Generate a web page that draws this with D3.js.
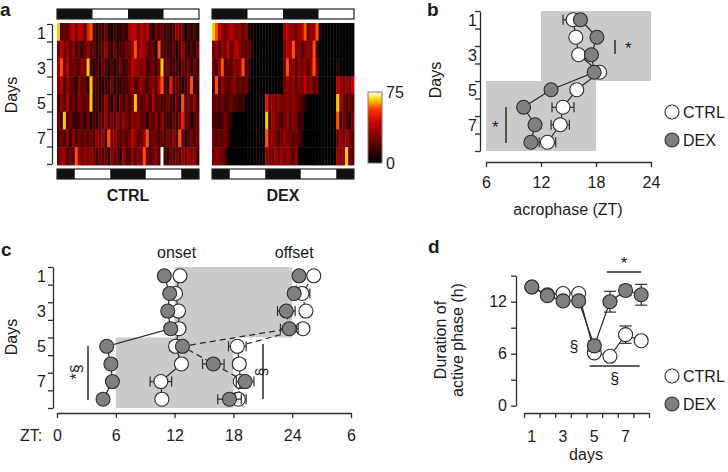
<!DOCTYPE html>
<html>
<head>
<meta charset="utf-8">
<script src="https://cdn.jsdelivr.net/npm/d3@7"></script>
<style>
  body { margin: 0; background: #fff; }
  svg { display: block; font-family: "Liberation Sans", Arial, sans-serif; }
</style>
</head>
<body>
<svg id="fig" width="728" height="472"></svg>
<script>
// ---- data ----
const days = [1, 2, 3, 4, 5, 6, 7, 8];
const dayLabels = [1, 3, 5, 7];

// actograms: activity per 1-h bin over 48 h, level 0-9 (9 = 75 counts)
const ctrlActogram = [
  "823245355267212131021121455354521323121243302121",
  "353424231342312242131223347354323172221312421213",
  "473523324382121321212312354434223238231221323132",
  "352432142318221121312122342343234257216232123712",
  "242523243238121242131323238323415232232131723242",
  "328232123131213242324243243423132414221323632123",
  "232414232323243427343232354234723323232427312323",
  "344232743434323231423142242437323429213232434342"
];
const dexActogram = [
  "875434543424100000000000453434573447100000000000",
  "342435245332310000000000354734234372000000000000",
  "324723243472200000000000373424342473000000100000",
  "272432342323100000000000343424353423000000543435",
  "232322322120000000634343343433210000000000843232",
  "221232100000000000824332342431200000000000723213",
  "323232000000000000734323433232100000000000343432",
  "343320000000000000433434343240000000000000434832"
];
const ldTopDark = [[0, 12], [24, 36]];
const ldBottomDark = [[0, 6], [18, 30], [42, 48]];
const heatTicks = [0, 75];

// b: acrophase (ZT)
const acroCtrl = [15.5, 15.8, 16.1, 18.4, 15.9, 14.4, 14.1, 12.7];
const acroCtrlErr = [1.1, 0.3, 0.3, 0.3, 0.4, 1.2, 1.0, 0.9];
const acroDex = [16.3, 18.1, 17.5, 17.8, 13.1, 10.1, 11.35, 10.9];
const acroDexErr = [0.3, 0.3, 0.3, 0.3, 0.3, 0.3, 0.3, 0.3];
const acroTicks = [6, 12, 18, 24];

// c: onset / offset (ZT)
const onsetCtrl = [12.55, 12.1, 12.4, 12.45, 12.1, 12.7, 10.6, 10.7];
const onsetCtrlErr = [0.3, 0.4, 0.3, 0.3, 0.6, 0.5, 1.1, 0.4];
const onsetDex = [10.95, 11.5, 11.3, 11.6, 5.07, 5.5, 5.65, 4.7];
const onsetDexErr = [0.3, 0.3, 0.3, 0.3, 0.4, 0.3, 0.3, 0.3];
const offsetCtrl = [26.2, 25.0, 25.4, 25.1, 18.4, 18.6, 18.7, 18.5];
const offsetCtrlErr = [0.3, 0.8, 0.4, 0.4, 0.9, 0.6, 0.5, 0.8];
const offsetDex = [24.7, 24.2, 23.4, 23.7, 12.8, 15.95, 19.2, 17.6];
const offsetDexErr = [0.3, 0.4, 0.9, 0.9, 0.5, 1.1, 0.9, 1.2];
const ztTicks = [0, 6, 12, 18, 24, 30];
const ztLabels = ["0", "6", "12", "18", "24", "6"];

// d: duration of active phase (h)
const durCtrl = [13.7, 12.8, 12.95, 12.95, 6.1, 5.7, 8.2, 7.5];
const durCtrlErr = [0.3, 0.3, 0.3, 0.3, 0.4, 0.4, 1.0, 0.4];
const durDex = [13.7, 12.7, 12.1, 12.1, 6.9, 12.0, 13.3, 12.8];
const durDexErr = [0.3, 0.3, 0.3, 0.3, 0.6, 1.2, 0.6, 1.2];
const durTicks = [0, 3, 6, 9, 12, 15];

// ---- drawing ----
const svg = d3.select("#fig");
const ink = "#2b2b2b";
const txt = "#1a1a1a";
const R = 7;

const heat = d3.scaleLinear()
  .domain([0, 42, 56, 67, 75])
  .range(["#000000", "#c00000", "#ff3000", "#ffd000", "#ffffff"]);
const level = c => +c * 75 / 9;

function label(x, y, s, opts = {}) {
  return svg.append("text")
    .attr("x", x).attr("y", y)
    .attr("font-size", opts.size || 16)
    .attr("font-weight", opts.bold ? "bold" : null)
    .attr("text-anchor", opts.anchor || "start")
    .attr("transform", opts.rotate ? `rotate(${opts.rotate},${x},${y})` : null)
    .attr("fill", txt)
    .text(s);
}

function styleAxis(g) {
  g.selectAll("line,path").attr("stroke", ink).attr("stroke-width", 1.3);
  g.selectAll("text").attr("font-size", 16).attr("fill", txt).attr("font-family", null);
}

// day axis with ticks between days, labels at 1,3,5,7
function dayAxis(x, y0, y1, gap) {
  const y = d3.scaleLinear().domain([0.5, 8.5]).range([y0, y1]);
  svg.append("g")
    .attr("transform", `translate(${x},0)`)
    .call(d3.axisLeft(y).tickValues(d3.range(0.5, 9, 1)).tickSize(5).tickSizeOuter(0).tickFormat(""))
    .call(styleAxis);
  svg.append("g").selectAll("text")
    .data(dayLabels).join("text")
    .attr("x", x - gap).attr("y", d => y(d)).attr("dy", "0.36em")
    .attr("text-anchor", "end").attr("font-size", 16).attr("fill", txt)
    .text(d => d);
  return y;
}

// ---- panel a ----
function actogram(rows, x0, x1, name) {
  const col = d3.scaleBand().domain(d3.range(48)).range([x0, x1]);
  const row = d3.scaleBand().domain(days).range([23, 165]);
  const hx = d3.scaleLinear().domain([0, 48]).range([x0, x1]);
  const g = svg.append("g");
  rows.forEach((s, i) => {
    g.append("g").selectAll("rect")
      .data(s.split("").map(level)).join("rect")
      .attr("x", (d, j) => col(j)).attr("y", row(days[i]))
      .attr("width", col.bandwidth() + 0.4).attr("height", row.bandwidth() + 0.4)
      .attr("fill", d => heat(d));
  });
  [[9, ldTopDark], [169, ldBottomDark]].forEach(([y, dark]) => {
    g.append("rect").attr("x", x0).attr("y", y).attr("width", x1 - x0).attr("height", 10).attr("fill", "#fff");
    g.append("g").selectAll("rect").data(dark).join("rect")
      .attr("x", d => hx(d[0])).attr("y", y).attr("width", d => hx(d[1]) - hx(d[0])).attr("height", 10)
      .attr("fill", "#111");
    g.append("rect").attr("x", x0).attr("y", y).attr("width", x1 - x0).attr("height", 10)
      .attr("fill", "none").attr("stroke", "#222").attr("stroke-width", 1.2);
  });
  label((x0 + x1) / 2, 201, name, { bold: true, anchor: "middle" });
}
actogram(ctrlActogram, 57, 199, "CTRL");
actogram(dexActogram, 212, 354, "DEX");
dayAxis(52, 24, 164, 6);
label(17, 95, "Days", { rotate: -90, anchor: "middle" });
label(0, 16, "a", { bold: true, size: 19 });

// colour bar
const grad = svg.append("defs").append("linearGradient")
  .attr("id", "heatgrad").attr("x1", 0).attr("y1", 1).attr("x2", 0).attr("y2", 0);
grad.selectAll("stop").data(heat.domain()).join("stop")
  .attr("offset", d => d / 75).attr("stop-color", d => heat(d));
const cb = d3.scaleLinear().domain([0, 75]).range([163, 92]);
svg.append("rect").attr("x", 368).attr("y", cb(75)).attr("width", 14).attr("height", cb(0) - cb(75))
  .attr("fill", "url(#heatgrad)").attr("stroke", "#777").attr("stroke-width", 1);
svg.append("g").selectAll("text").data(heatTicks).join("text")
  .attr("x", 386).attr("y", d => cb(d)).attr("dy", "0.36em")
  .attr("font-size", 16).attr("fill", txt).text(d => d);

// ---- shared point drawing ----
function series(xs, ys, vals, errs, fill, horizontal, dash) {
  const pts = vals.map((v, i) => ({ v, e: errs[i], day: days[i] }));
  const g = svg.append("g");
  const px = d => horizontal ? xs(d.v) : xs(d.day);
  const py = d => horizontal ? ys(d.day) : ys(d.v);
  g.append("path")
    .attr("d", d3.line().x(px).y(py)(pts))
    .attr("fill", "none").attr("stroke", ink).attr("stroke-width", 1.2)
    .attr("stroke-dasharray", dash ? "6,4" : null);
  const eb = g.append("g").attr("stroke", ink).attr("stroke-width", 1.2);
  pts.forEach(d => {
    if (horizontal) {
      const a = xs(d.v - d.e), b = xs(d.v + d.e), y = ys(d.day);
      eb.append("line").attr("x1", a).attr("x2", b).attr("y1", y).attr("y2", y);
      eb.append("line").attr("x1", a).attr("x2", a).attr("y1", y - 5).attr("y2", y + 5);
      eb.append("line").attr("x1", b).attr("x2", b).attr("y1", y - 5).attr("y2", y + 5);
    } else {
      const a = ys(d.v - d.e), b = ys(d.v + d.e), x = xs(d.day);
      eb.append("line").attr("y1", a).attr("y2", b).attr("x1", x).attr("x2", x);
      eb.append("line").attr("y1", a).attr("y2", a).attr("x1", x - 6).attr("x2", x + 6);
      eb.append("line").attr("y1", b).attr("y2", b).attr("x1", x - 6).attr("x2", x + 6);
    }
  });
  g.append("g").selectAll("circle").data(pts).join("circle")
    .attr("cx", px).attr("cy", py).attr("r", R)
    .attr("fill", fill).attr("stroke", ink).attr("stroke-width", 1.1);
}

function legend(x, y) {
  [["CTRL", "#fff"], ["DEX", "#808080"]].forEach(([name, fill], i) => {
    svg.append("circle").attr("cx", x).attr("cy", y + i * 28).attr("r", R)
      .attr("fill", fill).attr("stroke", ink).attr("stroke-width", 1.1);
    label(x + 11, y + i * 28 + 6, name);
  });
}

function sigBar(x, y0, y1) {
  svg.append("line").attr("x1", x).attr("x2", x).attr("y1", y0).attr("y2", y1)
    .attr("stroke", ink).attr("stroke-width", 1.5);
}

// ---- panel b ----
const bx = d3.scaleLinear().domain([6, 24]).range([486, 651]);
const by = dayAxis(480, 11, 151, 3);
svg.append("rect").attr("x", bx(12)).attr("y", by(0.5)).attr("width", bx(24) - bx(12)).attr("height", by(4.5) - by(0.5)).attr("fill", "#cbcbcb");
svg.append("rect").attr("x", bx(6)).attr("y", by(4.5)).attr("width", bx(18) - bx(6)).attr("height", by(8.5) - by(4.5)).attr("fill", "#cbcbcb");
svg.append("g").attr("transform", "translate(0,162)")
  .call(d3.axisBottom(bx).tickValues(acroTicks).tickSize(5).tickSizeOuter(0).tickPadding(10))
  .call(styleAxis);
series(bx, by, acroCtrl, acroCtrlErr, "#fff", true, false);
series(bx, by, acroDex, acroDexErr, "#808080", true, false);
sigBar(615, 40, 54);
label(625, 54, "*", { size: 17 });
sigBar(506, 107, 143);
label(492, 133, "*", { size: 17 });
label(568, 215, "acrophase (ZT)", { anchor: "middle" });
label(441, 80, "Days", { rotate: -90, anchor: "middle" });
label(427, 16, "b", { bold: true, size: 19 });
legend(672, 112);

// ---- panel c ----
const cx = d3.scaleLinear().domain([0, 30]).range([57, 351]);
const cy = dayAxis(53, 267, 408, 7);
svg.append("path")
  .attr("d", d3.line()([
    [cx(12), cy(0.5)], [cx(24), cy(0.5)], [cx(24), cy(4.5)], [cx(18), cy(4.5)],
    [cx(18), cy(8.5)], [cx(6), cy(8.5)], [cx(6), cy(4.5)], [cx(12), cy(4.5)]
  ]))
  .attr("fill", "#cbcbcb");
svg.append("g").attr("transform", "translate(0,413)")
  .call(d3.axisBottom(cx).tickValues(ztTicks).tickSize(5).tickSizeOuter(0).tickPadding(12)
    .tickFormat((d, i) => ztLabels[i]))
  .call(styleAxis);
series(cx, cy, onsetCtrl, onsetCtrlErr, "#fff", true, false);
series(cx, cy, offsetCtrl, offsetCtrlErr, "#fff", true, true);
series(cx, cy, onsetDex, onsetDexErr, "#808080", true, false);
series(cx, cy, offsetDex, offsetDexErr, "#808080", true, true);
sigBar(88, 346, 400);
label(82, 372, "*§", { rotate: -90, anchor: "middle" });
sigBar(263, 344, 399);
label(267, 372, "§", { rotate: -90, anchor: "middle" });
label(cx(12.2), 258, "onset", { anchor: "middle" });
label(cx(24.2), 258, "offset", { anchor: "middle" });
label(20, 441, "ZT:");
label(17, 337, "Days", { rotate: -90, anchor: "middle" });
label(1, 256, "c", { bold: true, size: 19 });

// ---- panel d ----
const dx = d3.scaleLinear().domain([0.5, 8.5]).range([524, 649]);
const dy = d3.scaleLinear().domain([0, 15]).range([405.7, 275.7]);
svg.append("g").attr("transform", "translate(516,0)")
  .call(d3.axisLeft(dy).tickValues(durTicks).tickSize(5).tickSizeOuter(0).tickPadding(4)
    .tickFormat(d => d % 6 === 0 ? d : ""))
  .call(styleAxis);
svg.append("g").attr("transform", "translate(0,413)")
  .call(d3.axisBottom(dx).tickValues(d3.range(0.5, 9, 1)).tickSize(5).tickSizeOuter(0).tickFormat(""))
  .call(styleAxis);
svg.append("g").selectAll("text").data(dayLabels).join("text")
  .attr("x", d => dx(d)).attr("y", 442).attr("text-anchor", "middle")
  .attr("font-size", 16).attr("fill", txt).text(d => d);
series(dx, dy, durCtrl, durCtrlErr, "#fff", false, false);
series(dx, dy, durDex, durDexErr, "#808080", false, false);
svg.append("line").attr("x1", dx(5.8)).attr("x2", dx(8)).attr("y1", 272).attr("y2", 272)
  .attr("stroke", ink).attr("stroke-width", 1.5);
label(dx(6.9), 269, "*", { size: 17, anchor: "middle" });
svg.append("line").attr("x1", dx(4.7)).attr("x2", dx(7.9)).attr("y1", 366).attr("y2", 366)
  .attr("stroke", ink).attr("stroke-width", 1.5);
label(dx(6.3), 384, "§", { anchor: "middle" });
label(574, 352, "§", { anchor: "middle" });
label(586, 460, "days", { anchor: "middle" });
label(446, 340, "Duration of", { rotate: -90, anchor: "middle" });
label(463, 340, "active phase (h)", { rotate: -90, anchor: "middle" });
label(428, 253, "d", { bold: true, size: 19 });
legend(672, 376);
</script>
</body>
</html>
